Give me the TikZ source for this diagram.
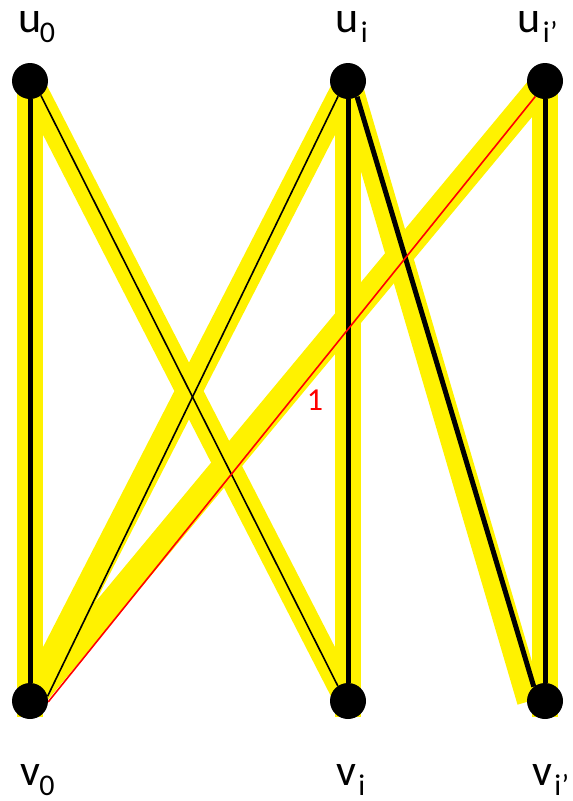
\documentclass[tikz,border=0pt]{standalone}
\usepackage{fontspec}
\setmainfont{Carlito}
\usetikzlibrary{calc}
\pgfdeclarelayer{bg}
\pgfdeclarelayer{mid}
\pgfsetlayers{bg,mid,main}
\newcommand{\subx}[2][0pt]{\kern#1\raisebox{-10pt}{\fontsize{30}{30}\selectfont #2}}
\begin{document}
\begin{tikzpicture}[x=1pt,y=-1pt,
  band/.style={line width=26pt, yellow, line cap=butt},
  heavy/.style={line width=5pt, black},
  fine/.style={line width=1.6pt, black},
  redline/.style={line width=1.6pt, red},
  vertex/.style={circle, fill=black, minimum size=36pt, inner sep=0pt},
  lab/.style={anchor=base west, inner sep=0pt, font=\fontsize{44}{44}\selectfont}]
\useasboundingbox (0,0) rectangle (573,801);
% vertices
\node[vertex] (u0) at (30,81) {};
\node[vertex] (ui) at (348,81) {};
\node[vertex] (uip) at (545,81) {};
\node[vertex] (v0) at (30,701) {};
\node[vertex] (vi) at (348,701) {};
\node[vertex] (vip) at (545,701) {};
\coordinate (v0b) at (30,717);
\coordinate (vib) at (348,717);
\coordinate (vipb) at (545,717);
\coordinate (vipl) at (530,701);
% yellow bands
\begin{pgfonlayer}{bg}
\draw[band] (u0.center) -- (v0b);
\draw[band] (ui.center) -- (vib);
\draw[band] (uip.center) -- (vipb);
\draw[band] (u0.center) -- (vi.center);
\draw[band] (ui.center) -- (v0.center);
\draw[band] (ui.center) -- (vipl);
\draw[band] (uip.center) -- (v0.center);
\end{pgfonlayer}
% edges
\begin{pgfonlayer}{mid}
\draw[heavy] (u0) -- (v0);
\draw[heavy] (ui) -- (vi);
\draw[heavy] (uip) -- (vip);
\draw[heavy] (ui.-60) -- (vip.128);
\draw[fine] (u0.-53) -- (vi.124);
\draw[fine] (ui.-123) -- (v0.15);
\draw[redline] (uip.-122) -- (v0.-3);
\end{pgfonlayer}
\node[text=red, anchor=base, inner sep=0pt, font=\fontsize{32}{32}\selectfont] (one) at (315,410) {1};
% labels
\node[lab] (lu0) at (18.6,32) {u\subx[-2pt]{0}};
\node[lab] (lui) at (335.6,32) {u\subx[2pt]{i}};
\node[lab] (luip) at (517.6,32) {u\subx[2pt]{i’}};
\node[lab] (lv0) at (20.3,785) {v\subx[-1pt]{0}};
\node[lab] (lvi) at (336.3,785) {v\subx[2pt]{i}};
\node[lab] (lvip) at (532.3,785) {v\subx[2pt]{i’}};
\end{tikzpicture}
\end{document}
